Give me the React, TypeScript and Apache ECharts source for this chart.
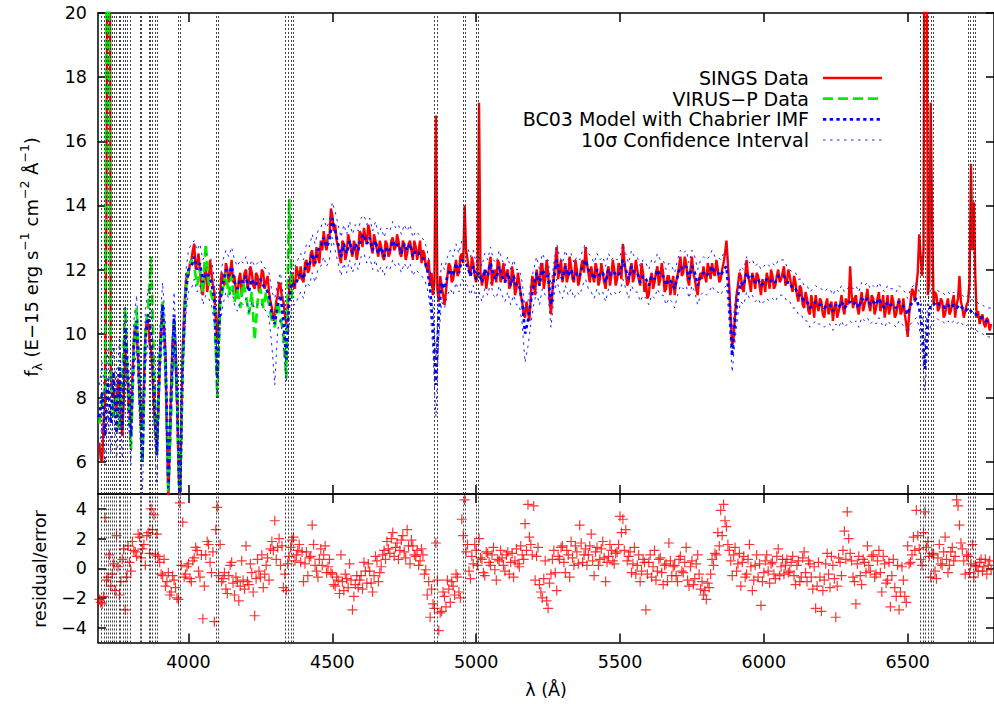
import { useEffect, useRef } from "react";
import * as echarts from "echarts";

// Wavelength grid (Å)
const lambda = [
  3690, 3700, 3710, 3720, 3730, 3740, 3750, 3760, 3770, 3780,
  3790, 3800, 3810, 3820, 3830, 3840, 3850, 3860, 3870, 3880,
  3890, 3900, 3910, 3920, 3930, 3940, 3950, 3960, 3970, 3980,
  3990, 4000, 4010, 4020, 4030, 4040, 4050, 4060, 4070, 4080,
  4090, 4100, 4110, 4120, 4130, 4140, 4150, 4160, 4170, 4180,
  4190, 4200, 4210, 4220, 4230, 4240, 4250, 4260, 4270, 4280,
  4290, 4300, 4310, 4320, 4330, 4340, 4350, 4360, 4370, 4380,
  4390, 4400, 4410, 4420, 4430, 4440, 4450, 4460, 4470, 4480,
  4490, 4500, 4510, 4520, 4530, 4540, 4550, 4560, 4570, 4580,
  4590, 4600, 4610, 4620, 4630, 4640, 4650, 4660, 4670, 4680,
  4690, 4700, 4710, 4720, 4730, 4740, 4750, 4760, 4770, 4780,
  4790, 4800, 4810, 4820, 4830, 4840, 4850, 4860, 4870, 4880,
  4890, 4900, 4910, 4920, 4930, 4940, 4950, 4960, 4970, 4980,
  4990, 5000, 5010, 5020, 5030, 5040, 5050, 5060, 5070, 5080,
  5090, 5100, 5110, 5120, 5130, 5140, 5150, 5160, 5170, 5180,
  5190, 5200, 5210, 5220, 5230, 5240, 5250, 5260, 5270, 5280,
  5290, 5300, 5310, 5320, 5330, 5340, 5350, 5360, 5370, 5380,
  5390, 5400, 5410, 5420, 5430, 5440, 5450, 5460, 5470, 5480,
  5490, 5500, 5510, 5520, 5530, 5540, 5550, 5560, 5570, 5580,
  5590, 5600, 5610, 5620, 5630, 5640, 5650, 5660, 5670, 5680,
  5690, 5700, 5710, 5720, 5730, 5740, 5750, 5760, 5770, 5780,
  5790, 5800, 5810, 5820, 5830, 5840, 5850, 5860, 5870, 5880,
  5890, 5900, 5910, 5920, 5930, 5940, 5950, 5960, 5970, 5980,
  5990, 6000, 6010, 6020, 6030, 6040, 6050, 6060, 6070, 6080,
  6090, 6100, 6110, 6120, 6130, 6140, 6150, 6160, 6170, 6180,
  6190, 6200, 6210, 6220, 6230, 6240, 6250, 6260, 6270, 6280,
  6290, 6300, 6310, 6320, 6330, 6340, 6350, 6360, 6370, 6380,
  6390, 6400, 6410, 6420, 6430, 6440, 6450, 6460, 6470, 6480,
  6490, 6500, 6510, 6520, 6530, 6540, 6550, 6560, 6570, 6580,
  6590, 6600, 6610, 6620, 6630, 6640, 6650, 6660, 6670, 6680,
  6690, 6700, 6710, 6720, 6730, 6740, 6750, 6760, 6770, 6780,
  6790,
];

// Intermediate wavelengths (Å) of the SINGS spectrum / residuals
const lambdaMid = [
  3695, 3705, 3715, 3725, 3735, 3745, 3755, 3765, 3775, 3785,
  3795, 3805, 3815, 3825, 3835, 3845, 3855, 3865, 3875, 3885,
  3895, 3905, 3915, 3925, 3935, 3945, 3955, 3965, 3975, 3985,
  3995, 4005, 4015, 4025, 4035, 4045, 4055, 4065, 4075, 4085,
  4095, 4105, 4115, 4125, 4135, 4145, 4155, 4165, 4175, 4185,
  4195, 4205, 4215, 4225, 4235, 4245, 4255, 4265, 4275, 4285,
  4295, 4305, 4315, 4325, 4335, 4345, 4355, 4365, 4375, 4385,
  4395, 4405, 4415, 4425, 4435, 4445, 4455, 4465, 4475, 4485,
  4495, 4505, 4515, 4525, 4535, 4545, 4555, 4565, 4575, 4585,
  4595, 4605, 4615, 4625, 4635, 4645, 4655, 4665, 4675, 4685,
  4695, 4705, 4715, 4725, 4735, 4745, 4755, 4765, 4775, 4785,
  4795, 4805, 4815, 4825, 4835, 4845, 4855, 4865, 4875, 4885,
  4895, 4905, 4915, 4925, 4935, 4945, 4955, 4965, 4975, 4985,
  4995, 5005, 5015, 5025, 5035, 5045, 5055, 5065, 5075, 5085,
  5095, 5105, 5115, 5125, 5135, 5145, 5155, 5165, 5175, 5185,
  5195, 5205, 5215, 5225, 5235, 5245, 5255, 5265, 5275, 5285,
  5295, 5305, 5315, 5325, 5335, 5345, 5355, 5365, 5375, 5385,
  5395, 5405, 5415, 5425, 5435, 5445, 5455, 5465, 5475, 5485,
  5495, 5505, 5515, 5525, 5535, 5545, 5555, 5565, 5575, 5585,
  5595, 5605, 5615, 5625, 5635, 5645, 5655, 5665, 5675, 5685,
  5695, 5705, 5715, 5725, 5735, 5745, 5755, 5765, 5775, 5785,
  5795, 5805, 5815, 5825, 5835, 5845, 5855, 5865, 5875, 5885,
  5895, 5905, 5915, 5925, 5935, 5945, 5955, 5965, 5975, 5985,
  5995, 6005, 6015, 6025, 6035, 6045, 6055, 6065, 6075, 6085,
  6095, 6105, 6115, 6125, 6135, 6145, 6155, 6165, 6175, 6185,
  6195, 6205, 6215, 6225, 6235, 6245, 6255, 6265, 6275, 6285,
  6295, 6305, 6315, 6325, 6335, 6345, 6355, 6365, 6375, 6385,
  6395, 6405, 6415, 6425, 6435, 6445, 6455, 6465, 6475, 6485,
  6495, 6505, 6515, 6525, 6535, 6545, 6555, 6565, 6575, 6585,
  6595, 6605, 6615, 6625, 6635, 6645, 6655, 6665, 6675, 6685,
  6695, 6705, 6715, 6725, 6735, 6745, 6755, 6765, 6775, 6785,
];

// SINGS spectrum (E-15 erg s^-1 cm^-2 Å^-1) on lambda
const singsFlux = [
  6.6, 6.0, 7.8, 30, 9.0, 8.3, 7.6, 8.3, 6.8, 9.5,
  8.5, 7.2, 9.8, 10.0, 8.0, 7.2, 9.9, 10.3, 9.5, 7.8,
  6.5, 9.0, 10.6, 9.2, 4.8, 8.5, 10.4, 8.0, 4.5, 9.5,
  11.5, 11.8, 12.3, 12.8, 12.2, 11.9, 11.2, 12.1, 11.6, 11.9,
  11.3, 9.8, 11.2, 11.8, 12.2, 11.6, 12.3, 11.8, 11.1, 11.9,
  11.5, 12.0, 11.6, 11.9, 11.4, 11.8, 11.5, 11.9, 11.6, 11.3,
  10.8, 10.6, 11.2, 11.5, 11.0, 10.3, 11.4, 11.9, 11.4, 11.9,
  12.1, 11.6, 12.3, 12.0, 12.6, 12.2, 12.4, 12.9, 13.2, 12.6,
  13.0, 13.7, 13.4, 12.7, 12.2, 12.8, 12.5, 12.9, 12.4, 12.7,
  12.6, 13.1, 13.3, 12.8, 13.2, 12.5, 12.9, 12.4, 12.7, 12.3,
  12.8, 12.5, 13.0, 12.7, 12.9, 12.4, 12.8, 12.5, 12.9, 12.3,
  12.7, 12.6, 12.2, 12.5, 12.0, 11.5, 11.2, 16.8, 11.0, 11.5,
  10.9, 11.8, 12.1, 11.7, 12.3, 11.9, 12.5, 14.0, 12.3, 11.8,
  12.2, 11.6, 17.2, 11.5, 12.0, 11.7, 12.4, 11.8, 11.6, 12.2,
  11.9, 11.6, 12.0, 11.5, 11.8, 11.4, 11.6, 11.0, 10.5, 10.7,
  11.2, 11.6, 12.0, 11.5, 12.2, 11.7, 11.9, 10.6, 11.8, 12.7,
  12.0, 11.6, 12.2, 11.8, 12.1, 11.6, 12.0, 11.7, 12.3, 12.7,
  11.9, 12.1, 11.6, 12.0, 11.7, 11.9, 11.4, 12.1, 11.8, 12.0,
  11.7, 12.0, 12.8, 11.9, 11.6, 12.2, 11.8, 12.0, 11.5, 11.9,
  11.6, 11.2, 11.9, 11.6, 12.1, 11.7, 11.9, 11.4, 11.8, 11.5,
  11.2, 11.8, 12.4, 11.9, 12.2, 11.5, 12.4, 11.7, 11.2, 11.9,
  12.1, 11.6, 12.0, 12.2, 11.8, 12.0, 11.7, 12.2, 12.9, 11.4,
  9.6, 10.6, 11.5, 11.8, 11.3, 12.3, 11.6, 11.9, 11.4, 11.8,
  11.2, 11.6, 11.9, 11.4, 11.8, 11.5, 12.0, 11.7, 12.1, 11.6,
  11.8, 11.3, 11.6, 11.0, 11.4, 10.8, 11.1, 10.6, 10.9, 11.2,
  10.7, 11.0, 10.5, 11.1, 10.8, 10.4, 11.0, 10.7, 11.2, 10.6,
  10.9, 12.1, 10.8, 11.2, 10.6, 11.3, 10.9, 11.4, 10.7, 11.1,
  10.8, 11.3, 10.9, 10.5, 11.2, 10.8, 11.0, 10.6, 11.1, 10.7,
  10.6, 9.9, 11.0, 11.3, 11.5, 13.1, 11.8, 30, 11.2, 17.2,
  10.9, 11.2, 10.8, 11.0, 10.6, 11.1, 10.7, 11.2, 10.9, 11.8,
  10.8, 10.7, 11.0, 15.3, 14.1, 10.5, 10.3, 10.6, 10.2, 10.4,
  10.3,
];

// SINGS spectrum on lambdaMid
const singsMid = [
  6.1, 7.2, 14, 32, 8.0, 7.9, 8.6, 7.4, 8.0, 9.0,
  7.6, 8.6, 10.3, 9.2, 7.3, 8.4, 10.5, 9.7, 8.9, 7.0,
  7.6, 10.2, 10.1, 7.0, 6.6, 9.8, 9.5, 6.0, 7.2, 10.7,
  11.9, 12.2, 12.6, 12.0, 12.5, 11.4, 11.8, 11.3, 12.3, 11.5,
  10.4, 10.6, 11.9, 11.5, 12.0, 11.9, 11.6, 11.3, 11.7, 11.2,
  11.9, 11.4, 12.1, 11.5, 11.9, 11.3, 12.0, 11.4, 11.8, 11.0,
  10.4, 11.0, 11.6, 11.1, 10.6, 10.9, 11.8, 11.5, 12.1, 11.7,
  11.7, 12.2, 11.9, 12.5, 12.1, 12.7, 12.2, 12.6, 12.8, 13.1,
  13.9, 13.2, 12.9, 12.4, 12.9, 12.3, 13.1, 12.6, 12.9, 12.3,
  13.2, 12.7, 13.0, 13.4, 12.7, 13.1, 12.6, 12.9, 12.4, 12.9,
  12.4, 12.9, 12.6, 13.1, 12.5, 12.9, 12.3, 12.8, 12.6, 12.9,
  12.3, 12.9, 12.6, 12.1, 12.3, 11.9, 11.6, 11.4, 11.8, 11.2,
  11.3, 12.2, 11.6, 12.0, 11.8, 12.4, 12.2, 12.6, 12.0, 12.4,
  11.8, 12.0, 11.9, 11.8, 11.4, 12.1, 11.5, 12.0, 12.3, 11.6,
  12.2, 11.9, 11.4, 12.1, 11.2, 11.9, 11.2, 10.6, 11.0, 10.4,
  11.8, 11.2, 11.7, 12.1, 11.4, 12.3, 11.1, 11.3, 12.2, 11.7,
  12.3, 11.9, 11.6, 12.4, 11.7, 12.3, 11.5, 12.1, 11.9, 12.2,
  11.6, 11.8, 12.2, 11.5, 12.2, 11.6, 11.9, 11.5, 12.3, 11.5,
  12.2, 11.7, 12.3, 11.5, 12.0, 11.6, 12.3, 11.7, 12.2, 11.3,
  11.1, 11.7, 11.4, 11.9, 11.5, 12.2, 11.3, 11.8, 11.2, 11.8,
  11.6, 12.1, 11.8, 12.4, 11.7, 12.0, 11.9, 11.4, 11.7, 11.7,
  11.8, 12.2, 11.7, 11.9, 12.3, 11.6, 12.0, 12.5, 12.2, 10.4,
  9.9, 11.2, 11.9, 11.4, 11.8, 11.8, 11.3, 11.7, 11.9, 11.5,
  11.7, 11.3, 11.7, 12.0, 11.4, 11.8, 11.6, 11.9, 11.5, 12.0,
  11.5, 11.8, 11.2, 11.5, 10.9, 11.3, 10.7, 11.2, 10.5, 10.9,
  11.1, 10.6, 10.9, 10.6, 11.0, 10.8, 10.5, 10.9, 10.8, 11.1,
  11.0, 11.2, 11.1, 10.8, 11.0, 10.7, 11.1, 10.9, 11.2, 10.6,
  11.1, 10.7, 11.2, 10.8, 10.6, 11.2, 10.5, 10.9, 10.6, 11.1,
  10.3, 10.6, 11.4, 11.0, 11.9, 12.4, 12.6, 26, 11.6, 13.5,
  11.3, 10.7, 11.1, 10.5, 10.9, 10.6, 11.0, 10.5, 11.1, 11.0,
  10.5, 10.9, 11.6, 12.6, 11.8, 10.7, 10.5, 10.3, 10.5, 10.1,
];

// VIRUS-P spectrum (first 68 wavelengths of lambda, 3690-4360 Å)
const virusFlux = [
  7.2, 7.8, 8.3, 30, 8.6, 7.4, 8.0, 7.0, 8.6, 10.8,
  8.2, 6.4, 9.5, 10.8, 8.5, 6.0, 10.0, 10.8, 12.4, 9.0,
  6.2, 9.2, 11.0, 9.0, 5.0, 7.5, 10.4, 8.0, 4.6, 9.0,
  11.3, 12.0, 12.3, 12.1, 11.5, 12.0, 11.3, 12.8, 11.6, 11.2,
  10.9, 8.0, 10.9, 11.4, 11.9, 11.2, 11.8, 11.0, 11.4, 10.8,
  11.6, 11.2, 10.6, 11.3, 9.8, 11.0, 11.4, 10.8, 11.3, 10.9,
  10.4, 10.2, 11.0, 10.5, 10.0, 8.6, 14.2, 11.0,
];

// BC03 model with Chabrier IMF
const modelFlux = [
  7.4, 8.2, 6.8, 8.6, 7.2, 8.8, 6.9, 9.0, 7.0, 10.2,
  8.4, 6.8, 9.6, 10.4, 8.2, 6.0, 9.8, 10.6, 10.0, 8.0,
  6.2, 9.2, 10.9, 9.4, 5.2, 8.2, 10.6, 8.2, 4.4, 9.2,
  11.2, 12.0, 12.1, 12.4, 12.0, 12.2, 11.6, 11.9, 11.8, 11.6,
  11.0, 8.6, 11.0, 11.6, 12.0, 11.8, 12.1, 11.6, 11.4, 11.7,
  11.6, 11.8, 11.3, 11.7, 11.5, 11.6, 11.7, 11.5, 11.4, 11.2,
  10.6, 10.3, 10.9, 11.2, 10.4, 9.2, 11.0, 11.6, 11.5, 11.7,
  11.9, 11.7, 12.2, 12.1, 12.5, 12.2, 12.6, 12.7, 13.0, 12.7,
  12.9, 13.6, 13.2, 12.8, 12.4, 12.8, 12.5, 12.9, 12.5, 12.8,
  12.6, 13.0, 13.1, 12.8, 13.0, 12.6, 12.9, 12.5, 12.7, 12.4,
  12.7, 12.6, 12.9, 12.7, 12.8, 12.5, 12.8, 12.6, 12.8, 12.4,
  12.6, 12.5, 12.4, 12.3, 12.0, 11.4, 10.2, 8.4, 10.6, 11.6,
  11.4, 11.8, 12.0, 11.8, 12.2, 11.9, 12.3, 12.2, 12.1, 11.8,
  12.1, 11.7, 11.9, 11.6, 12.0, 11.8, 12.2, 11.8, 11.7, 12.1,
  11.8, 11.6, 11.9, 11.5, 11.8, 11.5, 11.5, 11.0, 10.0, 10.4,
  11.0, 11.5, 11.9, 11.5, 12.0, 11.8, 11.8, 10.9, 11.7, 12.3,
  11.9, 11.7, 12.1, 11.8, 12.0, 11.7, 11.9, 11.8, 12.1, 12.3,
  12.0, 11.9, 11.7, 12.0, 11.8, 11.9, 11.6, 12.0, 11.8, 11.9,
  11.8, 11.9, 12.3, 12.0, 11.7, 12.1, 11.9, 11.9, 11.6, 11.8,
  11.7, 11.5, 11.8, 11.7, 12.0, 11.8, 11.8, 11.5, 11.7, 11.6,
  11.4, 11.8, 12.1, 12.0, 12.1, 11.7, 12.1, 11.9, 11.5, 11.8,
  11.9, 11.8, 11.9, 12.1, 11.9, 11.9, 11.8, 12.0, 12.1, 11.0,
  9.3, 10.4, 11.2, 11.6, 11.5, 11.9, 11.7, 11.8, 11.6, 11.7,
  11.5, 11.6, 11.7, 11.6, 11.7, 11.6, 11.8, 11.8, 11.8, 11.6,
  11.6, 11.4, 11.4, 11.2, 11.2, 11.0, 11.0, 10.8, 10.9, 11.0,
  10.9, 10.9, 10.8, 10.9, 10.9, 10.7, 10.9, 10.8, 11.0, 10.8,
  10.9, 11.0, 10.9, 11.0, 10.8, 11.1, 11.0, 11.1, 10.9, 11.0,
  10.9, 11.1, 10.9, 10.8, 11.0, 10.9, 10.9, 10.8, 11.0, 10.9,
  10.8, 10.6, 10.9, 11.0, 11.1, 10.8, 10.2, 8.9, 10.4, 10.9,
  10.9, 11.0, 10.9, 10.9, 10.8, 10.9, 10.8, 10.9, 10.8, 10.9,
  10.8, 10.7, 10.8, 10.7, 10.6, 10.6, 10.5, 10.5, 10.4, 10.4,
  10.4,
];

// 10σ confidence interval, upper and lower
const ciUpper = [
  8.4, 9.1, 7.9, 9.5, 8.3, 9.6, 8.0, 9.9, 8.1, 10.9,
  9.3, 7.8, 10.4, 11.2, 9.1, 7.0, 10.7, 11.4, 10.8, 9.0,
  7.2, 10.1, 11.6, 10.3, 6.2, 9.1, 11.3, 9.1, 5.4, 10.1,
  11.9, 12.6, 12.8, 12.9, 12.6, 12.8, 12.3, 12.5, 12.4, 12.3,
  11.7, 9.4, 11.7, 12.3, 12.6, 12.4, 12.7, 12.3, 12.1, 12.3,
  12.2, 12.4, 12.0, 12.3, 12.1, 12.2, 12.3, 12.1, 12.0, 11.9,
  11.3, 11.1, 11.6, 11.9, 11.1, 10.0, 11.7, 12.2, 12.1, 12.3,
  12.5, 12.3, 12.8, 12.7, 13.1, 12.8, 13.2, 13.3, 13.6, 13.3,
  13.5, 14.1, 13.8, 13.4, 13.0, 13.4, 13.1, 13.5, 13.1, 13.4,
  13.2, 13.6, 13.7, 13.4, 13.6, 13.2, 13.5, 13.1, 13.3, 13.0,
  13.3, 13.2, 13.5, 13.3, 13.4, 13.1, 13.4, 13.2, 13.4, 13.0,
  13.2, 13.1, 13.0, 12.9, 12.6, 12.0, 10.9, 9.2, 11.3, 12.2,
  12.0, 12.4, 12.6, 12.4, 12.8, 12.5, 12.9, 12.8, 12.7, 12.4,
  12.6, 12.2, 12.4, 12.1, 12.5, 12.3, 12.7, 12.3, 12.2, 12.6,
  12.3, 12.1, 12.4, 12.0, 12.3, 12.0, 12.0, 11.6, 10.7, 11.0,
  11.6, 12.0, 12.4, 12.0, 12.5, 12.3, 12.3, 11.5, 12.2, 12.8,
  12.4, 12.2, 12.6, 12.3, 12.5, 12.2, 12.4, 12.3, 12.6, 12.8,
  12.5, 12.4, 12.2, 12.5, 12.3, 12.4, 12.1, 12.5, 12.3, 12.4,
  12.3, 12.4, 12.8, 12.5, 12.2, 12.6, 12.4, 12.4, 12.1, 12.3,
  12.2, 12.0, 12.3, 12.2, 12.5, 12.3, 12.3, 12.0, 12.2, 12.1,
  11.9, 12.3, 12.6, 12.5, 12.6, 12.2, 12.6, 12.4, 12.0, 12.3,
  12.4, 12.3, 12.4, 12.6, 12.4, 12.4, 12.3, 12.5, 12.6, 11.6,
  10.1, 11.0, 11.7, 12.1, 12.0, 12.4, 12.2, 12.3, 12.1, 12.2,
  12.0, 12.1, 12.2, 12.1, 12.2, 12.1, 12.3, 12.3, 12.3, 12.1,
  12.0, 11.9, 11.9, 11.7, 11.7, 11.5, 11.5, 11.3, 11.4, 11.5,
  11.4, 11.4, 11.3, 11.4, 11.4, 11.2, 11.4, 11.3, 11.5, 11.3,
  11.4, 11.5, 11.4, 11.5, 11.3, 11.6, 11.5, 11.6, 11.4, 11.5,
  11.4, 11.6, 11.4, 11.3, 11.5, 11.4, 11.4, 11.3, 11.5, 11.4,
  11.3, 11.1, 11.4, 11.5, 11.6, 11.3, 10.8, 9.6, 11.0, 11.4,
  11.3, 11.4, 11.3, 11.3, 11.2, 11.3, 11.2, 11.3, 11.2, 11.3,
  11.2, 11.1, 11.2, 11.1, 11.0, 11.0, 10.9, 10.9, 10.8, 10.8,
  10.8,
];

const ciLower = [
  6.5, 7.2, 5.9, 7.6, 6.3, 7.9, 6.0, 8.1, 6.0, 9.3,
  7.5, 5.9, 8.7, 9.6, 7.2, 5.0, 8.9, 9.8, 9.1, 7.0,
  5.3, 8.3, 10.1, 8.4, 4.3, 7.3, 9.8, 7.2, 3.5, 8.3,
  10.5, 11.3, 11.4, 11.7, 11.3, 11.5, 10.9, 11.2, 11.1, 10.9,
  10.3, 8.0, 10.3, 10.9, 11.3, 11.1, 11.4, 10.9, 10.7, 11.0,
  10.9, 11.1, 10.6, 11.0, 10.8, 10.9, 11.0, 10.8, 10.7, 10.5,
  9.6, 8.4, 10.1, 10.5, 9.6, 8.5, 10.3, 10.9, 10.9, 11.1,
  11.3, 11.1, 11.6, 11.5, 11.9, 11.6, 12.0, 12.1, 12.4, 12.1,
  12.3, 13.0, 12.6, 12.2, 11.8, 12.2, 11.9, 12.3, 11.9, 12.2,
  12.0, 12.4, 12.5, 12.2, 12.4, 12.0, 12.3, 11.9, 12.1, 11.8,
  12.1, 12.0, 12.3, 12.1, 12.2, 11.9, 12.2, 12.0, 12.2, 11.8,
  12.0, 11.9, 11.8, 11.7, 11.4, 10.8, 9.4, 7.4, 9.9, 11.0,
  10.8, 11.2, 11.4, 11.2, 11.6, 11.3, 11.7, 11.6, 11.5, 11.2,
  11.5, 11.1, 11.3, 11.0, 11.4, 11.2, 11.6, 11.2, 11.1, 11.5,
  11.2, 11.0, 11.3, 10.9, 11.2, 10.9, 10.9, 10.3, 9.1, 9.6,
  10.3, 10.9, 11.3, 10.9, 11.4, 11.2, 11.2, 10.2, 11.1, 11.7,
  11.3, 11.1, 11.5, 11.2, 11.4, 11.1, 11.3, 11.2, 11.5, 11.7,
  11.4, 11.3, 11.1, 11.4, 11.2, 11.3, 11.0, 11.4, 11.2, 11.3,
  11.2, 11.3, 11.7, 11.4, 11.1, 11.5, 11.3, 11.3, 11.0, 11.2,
  11.1, 10.9, 11.2, 11.1, 11.4, 11.2, 11.2, 10.9, 11.1, 11.0,
  10.8, 11.2, 11.5, 11.4, 11.5, 11.1, 11.5, 11.3, 10.9, 11.2,
  11.3, 11.2, 11.3, 11.5, 11.3, 11.3, 11.2, 11.4, 11.5, 10.3,
  8.8, 9.8, 10.6, 11.0, 10.9, 11.3, 11.1, 11.2, 11.0, 11.1,
  10.9, 11.0, 11.1, 11.0, 11.1, 11.0, 11.2, 11.2, 11.2, 11.0,
  11.0, 10.8, 10.8, 10.6, 10.6, 10.4, 10.4, 10.2, 10.3, 10.4,
  10.3, 10.3, 10.2, 10.3, 10.3, 10.1, 10.3, 10.2, 10.4, 10.2,
  10.3, 10.4, 10.3, 10.4, 10.2, 10.5, 10.4, 10.5, 10.3, 10.4,
  10.3, 10.5, 10.3, 10.2, 10.4, 10.3, 10.3, 10.2, 10.4, 10.3,
  10.2, 10.0, 10.3, 10.4, 10.5, 10.2, 9.5, 8.2, 9.7, 10.3,
  10.4, 10.5, 10.4, 10.4, 10.3, 10.4, 10.3, 10.4, 10.3, 10.4,
  10.3, 10.2, 10.3, 10.2, 10.1, 10.1, 10.0, 10.0, 9.9, 9.9,
  9.9,
];

// Residual / error on lambda
const residuals = [
  -2.1, -2.4, 3.4, -0.6, -1.2, 0.3, 2.2, -1.8, 0.6, -2.8,
  1.5, -0.2, 1.2, 0.8, 2.1, 1.3, 0.2, 2.4, 4.0, 3.6,
  2.3, 0.4, -0.5, -1.2, -0.3, -1.6, -0.8, -2.0, 4.4, 3.1,
  -0.4, 0.3, -0.9, 0.7, 1.2, -0.6, -3.4, 0.9, 1.6, -0.3,
  -3.6, 4.1, 1.6, -0.7, -1.4, -0.5, 0.4, -1.8, -0.9, -1.2,
  -0.8, 1.5, -1.1, -0.3, -3.2, 0.6, -0.6, -1.3, 0.2, -0.8,
  1.8, 3.2, 1.4, 0.2, -1.3, -1.5, 0.8, 1.9, 0.5, 1.2,
  0.4, -0.9, 1.1, 0.7, 2.9, 0.2, -0.6, 1.3, 0.9, -0.3,
  0.6, -0.4, -1.2, -0.8, 0.9, -1.5, -0.7, 0.3, -2.8, -1.1,
  -1.3, -0.5, 0.4, -1.0, -0.2, -1.6, 0.8, -0.9, 0.1, 1.2,
  1.8, 1.0, 2.4, 1.4, 0.6, 1.9, 1.1, 2.6, 0.3, 1.5,
  0.8, 0.2, 1.3, -0.4, -1.8, -3.3, -2.4, 1.7, -4.2, -2.9,
  -1.9, -0.8, -2.3, -1.2, -0.4, -1.6, 3.3, 4.6, 1.6, -0.7,
  0.3, 1.2, 2.0, 0.6, -0.5, 1.0, 0.2, 1.4, -0.8, 0.5,
  0.7, -0.2, 1.1, 0.4, -0.6, 1.3, 0.1, 0.9, 3.0, 4.3,
  1.6, 4.2, 0.8, -1.1, -2.0, 0.5, -2.7, -0.4, 1.2, -1.5,
  0.6, 1.5, -0.3, 0.9, 1.8, 0.2, 1.1, 2.9, 0.4, 1.3,
  0.9, 2.3, -0.5, 1.4, 0.6, 1.8, -0.9, 0.8, 1.2, 0.3,
  1.1, 3.5, 3.3, 2.6, 0.8, -0.3, 1.4, 0.2, -0.9, 0.6,
  -2.8, 0.4, -0.6, 1.2, -0.2, 0.7, -1.1, 0.3, 1.7, -0.5,
  0.2, -0.9, 0.8, -0.3, 1.4, -1.2, 0.5, -0.7, 0.9, -1.4,
  -1.8, -2.1, -1.3, 0.6, 1.0, 2.4, 3.9, 4.3, 2.8, 1.2,
  -0.5, 1.4, 0.3, -1.2, 0.8, -0.4, 1.6, -1.5, 0.2, -0.6,
  -2.5, -0.3, 0.9, -1.0, 0.4, -0.7, 1.3, 0.1, -0.4, 0.6,
  -0.2, 0.8, -1.1, 0.5, -0.6, 1.1, -0.9, 0.3, -1.4, -2.7,
  0.4, -2.9, -0.8, 1.0, -1.3, 0.2, -3.3, 0.7, -0.5, 2.5,
  3.8, 1.0, -0.6, -2.4, 0.8, -1.1, 0.4, 1.5, -0.2, 0.9,
  -0.4, 1.2, -1.6, 0.3, -0.8, -2.6, 0.6, -1.9, -2.8, 0.1,
  -1.9, 1.5, 0.4, 2.1, 3.9, 1.3, 0.2, 3.8, 1.8, -0.6,
  0.9, -0.7, 1.6, 0.2, 2.1, -0.3, 1.1, 0.5, 4.6, 2.9,
  1.3, -0.4, 0.8, 0.3, -0.6, 0.1, 0.4, -0.2, 0.6, 0.2,
  -0.1,
];

// Residual / error on lambdaMid
const residualsMid = [
  -2.3, -1.9, -0.8, 0.9, -0.4, -1.5, 0.1, -0.9, 1.3, -0.6,
  0.4, 1.8, 1.1, 2.3, 0.7, 1.6, 2.2, 1.0, 2.6, 0.9,
  0.8, -0.4, 0.6, -0.9, -1.8, -0.5, -1.3, -2.1, 0.2, -0.6,
  0.1, -0.7, 0.5, 1.4, -0.2, 0.9, -1.2, 1.8, 0.4, 1.1,
  2.6, -0.5, -0.9, -0.3, -1.7, 0.2, -1.0, -0.6, -2.2, 0.5,
  -1.4, -0.9, 0.3, -1.6, -0.7, -0.2, 0.9, -0.4, 0.7, 1.3,
  1.2, 0.6, 2.0, 1.5, -0.4, 0.3, 1.4, 2.1, 0.9, 1.6,
  1.1, 0.3, -0.5, 0.8, 1.6, -0.2, 0.6, 0.2, 1.5, 0.1,
  -0.3, -1.1, -0.6, -1.7, -0.9, -0.4, -1.3, -0.8, -1.9, -0.5,
  -0.8, -1.4, -0.2, 0.3, -1.0, -0.5, 0.5, -0.3, 0.9, 0.6,
  1.3, 2.0, 0.8, 1.7, 1.2, 2.2, 0.7, 1.5, 1.9, 0.9,
  1.2, 0.5, 0.9, -0.1, -0.9, -1.4, -2.7, -0.8, -3.0, -1.6,
  -2.6, -1.4, -0.9, -1.8, -0.6, -2.0, 2.2, 1.1, -0.2, 0.8,
  1.6, 0.2, 0.7, -0.3, 1.1, 0.4, 0.9, -0.1, 0.6, 1.2,
  0.2, 0.9, -0.4, 1.0, 0.5, 0.3, 1.5, 0.6, 1.2, 2.1,
  0.9, -0.8, 1.4, -1.6, -0.7, -2.2, -1.0, 0.6, -0.3, 0.8,
  1.4, 0.4, 1.2, -0.6, 0.7, 1.5, 0.3, 1.7, 0.9, 0.2,
  1.5, 0.5, 1.1, 0.2, 1.3, 0.7, 0.4, 1.6, 0.5, 1.0,
  1.6, 2.4, 1.2, 0.5, 1.1, 0.3, -0.4, 0.9, -0.2, 0.4,
  -0.4, 0.9, 0.1, -0.8, 0.6, -0.3, 0.2, -0.9, 0.5, 0.1,
  -0.5, 0.6, -0.2, 0.4, -0.8, 0.1, -1.1, 0.3, -0.4, -0.9,
  -1.5, -1.0, -0.4, 0.2, 0.9, 1.5, 2.2, 3.2, 1.6, 0.5,
  0.9, -0.2, 1.0, 0.4, -0.6, 0.6, 0.1, -0.8, 0.9, 0.3,
  -0.9, 0.5, -0.2, 0.3, -0.4, 0.8, -0.5, 0.6, 0.2, -0.3,
  0.4, -0.5, 0.2, -0.9, 0.7, -0.3, 0.5, -0.6, 0.1, -1.2,
  -0.6, -1.5, 0.3, -0.4, 0.8, -0.7, -1.2, 0.4, 1.2, 0.6,
  2.0, 0.5, -0.9, 0.3, -0.5, 0.6, -0.3, 0.2, 0.8, -0.6,
  0.5, -0.3, 0.8, -1.0, 0.4, -0.5, -1.3, 0.2, -1.6, -0.8,
  -2.3, 0.3, 0.9, 1.2, 2.2, 0.6, 2.4, 1.4, 0.8, 1.0,
  -0.2, 0.7, 0.3, 1.1, 0.6, 0.2, 1.4, 0.8, 4.2, 1.7,
  0.5, 0.9, -0.3, 1.6, 0.2, -0.2, 0.6, 0.1, -0.4, 0.5,
];

// Edges of masked wavelength windows (Å)
const maskEdges = [
  3698, 3706, 3713, 3720, 3727, 3734, 3743, 3750, 3758, 3764, 3773, 3780,
  3788, 3796, 3831, 3837, 3862, 3868, 3875, 3883, 3891, 3964, 3972,
  4097, 4105, 4337, 4347, 4357, 4365, 4856, 4865, 4954, 4962, 4999, 5008,
  6545, 6553, 6561, 6570, 6582, 6588, 6712, 6719, 6727, 6734,
];

const xTicks = [4000, 4500, 5000, 5500, 6000, 6500];
const fluxTicks = [6, 8, 10, 12, 14, 16, 18, 20];
const residTicks = [-4, -2, 0, 2, 4];
const legendLabels = [
  "SINGS Data",
  "VIRUS\u2212P Data",
  "BC03 Model with Chabrier IMF",
  "10\u03c3 Confidence Interval",
];

const FONT = '"DejaVu Sans", sans-serif';
const X_MIN = 3685.5;
const X_MAX = 6800;

export default function App() {
  const ref = useRef<HTMLDivElement>(null);

  useEffect(() => {
    if (!ref.current) return;
    const chart = echarts.init(ref.current, null, { renderer: "svg" });

    const axisLine = { color: "#000", width: 1.5 };
    const minus = (v: number) => String(v).replace("-", "\u2212");

    const mkX = (gridIndex: number, position: string, showLabel: boolean) => ({
      type: "value",
      gridIndex,
      position,
      min: X_MIN,
      max: X_MAX,
      axisLine: { show: true, onZero: false, lineStyle: axisLine },
      axisTick: { show: true, inside: true, length: 9, lineStyle: axisLine, customValues: xTicks },
      axisLabel: {
        show: showLabel,
        customValues: xTicks,
        margin: 10,
        color: "#000",
        fontSize: 17.5,
        fontFamily: FONT,
        formatter: (v: number) => String(v),
      },
      splitLine: { show: false },
    });

    const mkY = (gridIndex: number, position: string, min: number, max: number, ticks: number[], showLabel: boolean) => ({
      type: "value",
      gridIndex,
      position,
      min,
      max,
      axisLine: { show: true, onZero: false, lineStyle: axisLine },
      axisTick: { show: true, inside: true, length: 8, lineStyle: axisLine, customValues: ticks },
      axisLabel: {
        show: showLabel,
        customValues: ticks,
        margin: 11,
        color: "#000",
        fontSize: 17.5,
        fontFamily: FONT,
        formatter: (v: number) => minus(v),
      },
      splitLine: { show: false },
    });

    const merge = (xa: number[], ya: number[], xb: number[], yb: number[]) =>
      xa
        .map((x, i) => [x, ya[i]])
        .concat(xb.map((x, i) => [x, yb[i]]))
        .sort((p, q) => p[0] - q[0]);
    const pairs = (ys: number[]) => ys.map((y, i) => [lambda[i], y]);

    const maskLines = {
      silent: true,
      symbol: ["none", "none"],
      label: { show: false },
      lineStyle: { color: "#222", width: 1, type: [2, 2], opacity: 0.85 },
      emphasis: { disabled: true },
      data: maskEdges.map((v) => ({ xAxis: v })),
    };

    const legendY = [78, 98.6, 119.3, 140];
    const legendStyles = [
      { stroke: "#ff0000", lineWidth: 2.7 },
      { stroke: "#00ee00", lineWidth: 2.7, lineDash: [10, 5] },
      { stroke: "#0000ff", lineWidth: 2.7, lineDash: [3.3, 3.4] },
      { stroke: "#2020ff", lineWidth: 1, lineDash: [2.5, 4.5] },
    ];

    const graphic: any[] = [];
    legendLabels.forEach((t, i) => {
      graphic.push({
        type: "text",
        x: 809,
        y: legendY[i],
        style: {
          text: t,
          font: `19px ${FONT}`,
          fill: "#000",
          align: "right",
          verticalAlign: "middle",
          textAlign: "right",
          textVerticalAlign: "middle",
        },
      });
      graphic.push({
        type: "line",
        shape: { x1: 823, y1: legendY[i], x2: 882, y2: legendY[i] },
        style: { ...legendStyles[i], fill: null },
      });
    });

    graphic.push({
      type: "text",
      x: 31,
      y: 257,
      rotation: Math.PI / 2,
      style: {
        text:
          "{m|f}{sub|\u03bb}{m| (E\u221215 erg s}{sup|\u22121}{m| cm}{sup|\u22122}{m| \u00c5}{sup|\u22121}{m|)}",
        rich: {
          m: { fontSize: 18, fontFamily: FONT, lineHeight: 26, fill: "#000", verticalAlign: "middle" },
          sup: { fontSize: 12.5, fontFamily: FONT, lineHeight: 14, fill: "#000", verticalAlign: "top" },
          sub: { fontSize: 12.5, fontFamily: FONT, lineHeight: 14, fill: "#000", verticalAlign: "bottom" },
        },
        align: "center",
        verticalAlign: "middle",
        textAlign: "center",
        textVerticalAlign: "middle",
      },
    });
    graphic.push({
      type: "text",
      x: 40,
      y: 569,
      rotation: Math.PI / 2,
      style: {
        text: "residual/error",
        font: `17.5px ${FONT}`,
        fill: "#000",
        align: "center",
        verticalAlign: "middle",
        textAlign: "center",
        textVerticalAlign: "middle",
      },
    });
    graphic.push({
      type: "text",
      x: 546,
      y: 690,
      style: {
        text: "\u03bb (\u00c5)",
        font: `17.5px ${FONT}`,
        fill: "#000",
        align: "center",
        verticalAlign: "middle",
        textAlign: "center",
        textVerticalAlign: "middle",
      },
    });

    chart.setOption({
      animation: false,
      backgroundColor: "#fff",
      grid: [
        { left: 98, right: -2, top: 13, height: 481 },
        { left: 98, right: -2, top: 494, height: 148.5 },
      ],
      xAxis: [mkX(0, "bottom", false), mkX(0, "top", false), mkX(1, "bottom", true), mkX(1, "top", false)],
      yAxis: [
        mkY(0, "left", 5, 20, fluxTicks, true),
        mkY(0, "right", 5, 20, fluxTicks, false),
        mkY(1, "left", -5, 5, residTicks, true),
        mkY(1, "right", -5, 5, residTicks, false),
      ],
      graphic,
      series: [
        {
          name: "SINGS Data",
          type: "line",
          xAxisIndex: 0,
          yAxisIndex: 0,
          data: merge(lambda, singsFlux, lambdaMid, singsMid),
          showSymbol: false,
          symbol: "none",
          lineStyle: { color: "#ff0000", width: 2.4 },
          z: 2,
          clip: true,
          markLine: maskLines,
        },
        {
          name: "VIRUS\u2212P Data",
          type: "line",
          xAxisIndex: 0,
          yAxisIndex: 0,
          data: pairs(virusFlux),
          showSymbol: false,
          symbol: "none",
          lineStyle: { color: "#00ee00", width: 2.7, type: [10, 5] },
          z: 3,
          clip: true,
        },
        {
          name: "BC03 Model with Chabrier IMF",
          type: "line",
          xAxisIndex: 0,
          yAxisIndex: 0,
          data: pairs(modelFlux),
          showSymbol: false,
          symbol: "none",
          lineStyle: { color: "#0000ff", width: 2.7, type: [3.3, 3.4] },
          z: 4,
          clip: true,
        },
        {
          name: "10\u03c3 Confidence Interval",
          type: "line",
          xAxisIndex: 0,
          yAxisIndex: 0,
          data: pairs(ciUpper),
          showSymbol: false,
          symbol: "none",
          lineStyle: { color: "#2020ff", width: 1, type: [2.5, 4.5] },
          z: 4,
          clip: true,
        },
        {
          name: "10\u03c3 Confidence Interval (lower)",
          type: "line",
          xAxisIndex: 0,
          yAxisIndex: 0,
          data: pairs(ciLower),
          showSymbol: false,
          symbol: "none",
          lineStyle: { color: "#2020ff", width: 1, type: [2.5, 4.5] },
          z: 4,
          clip: true,
        },
        {
          name: "residual/error",
          type: "scatter",
          xAxisIndex: 2,
          yAxisIndex: 2,
          data: merge(lambda, residuals, lambdaMid, residualsMid),
          symbol: "path://M4.4,0H5.6V4.4H10V5.6H5.6V10H4.4V5.6H0V4.4H4.4Z",
          symbolSize: 10,
          itemStyle: { color: "#ff0000" },
          clip: true,
          markLine: maskLines,
        },
      ],
    });

    return () => chart.dispose();
  }, []);

  return (
    <div
      ref={ref}
      style={{ position: "fixed", left: 0, top: 0, width: 994, height: 708, background: "#fff" }}
    />
  );
}
